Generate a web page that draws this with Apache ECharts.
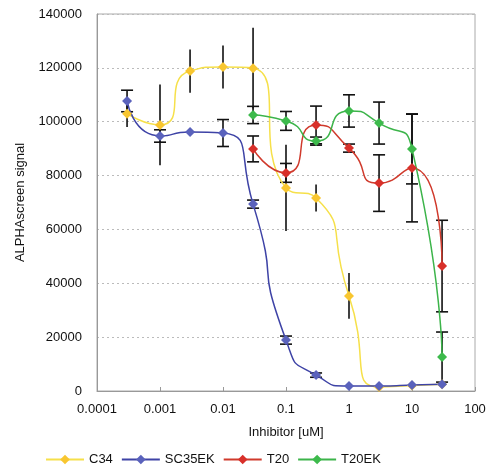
<!DOCTYPE html>
<html>
  <head>
    <meta charset="utf-8" />
    <title>ALPHAscreen inhibition</title>
    <script src="https://cdn.jsdelivr.net/npm/echarts@6/dist/echarts.min.js"></script>
    <style>
      html, body { margin: 0; padding: 0; background: #fff; }
    </style>
  </head>
  <body>
    <div id="main" style="width: 495px; height: 467px"></div>
    <script type="text/javascript">
      // concentrations in uM
      var concentrations = [0.0003, 0.001, 0.003, 0.01, 0.03, 0.1, 0.3, 1, 3, 10, 30];

      var c34 = [103000, 98800, 118800, 120300, 119900, 75400, 71700, 35300, 1500, 2000, 2500];
      var c34Err = [5000, 15000, 8000, 8000, 15000, 16000, 5000, 8500, 0, 0, 0];

      var sc35ek = [107700, 94700, 96200, 95800, 69400, 18900, 5900, 1900, 1900, 2200, 2500];
      var sc35ekErr = [4000, 2300, 0, 5000, 1500, 1500, 800, 0, 0, 0, 0];

      var t20 = [null, null, null, null, 89900, 81000, 98800, 90200, 77200, 82800, 46400];
      var t20Err = [null, null, null, null, 4800, 3500, 7000, 1500, 10500, 20000, 17000];

      var t20ek = [null, null, null, null, 102500, 100300, 92800, 104000, 99500, 89900, 12600];
      var t20ekErr = [null, null, null, null, 3200, 3500, 1500, 6000, 7800, 13000, 9300];

      var xTicks = ['0.0001', '0.001', '0.01', '0.1', '1', '10', '100'];

      var font = 'Arial, "Liberation Sans", sans-serif';

      function points(values) {
        var out = [];
        values.forEach(function (v, i) {
          if (v !== null) out.push([concentrations[i], v]);
        });
        return out;
      }

      function errPoints(values, errs) {
        var out = [];
        values.forEach(function (v, i) {
          if (v !== null && errs[i]) out.push([concentrations[i], v - errs[i], v + errs[i]]);
        });
        return out;
      }

      function errorSeries(values, errs, capWidth) {
        return {
          type: 'custom',
          silent: true,
          z: 1,
          encode: { x: 0, y: [1, 2] },
          renderItem: function (params, api) {
            var x = api.value(0);
            var lo = api.coord([x, api.value(1)]);
            var hi = api.coord([x, api.value(2)]);
            var style = { stroke: '#111', lineWidth: 1.6 };
            var children = [
              { type: 'line', shape: { x1: lo[0], y1: lo[1], x2: hi[0], y2: hi[1] }, style: style }
            ];
            if (capWidth) {
              var h = capWidth / 2;
              children.push({ type: 'line', shape: { x1: lo[0] - h, y1: lo[1], x2: lo[0] + h, y2: lo[1] }, style: style });
              children.push({ type: 'line', shape: { x1: hi[0] - h, y1: hi[1], x2: hi[0] + h, y2: hi[1] }, style: style });
            }
            return { type: 'group', children: children };
          },
          data: errPoints(values, errs)
        };
      }

      function lineSeries(name, values, lineColor, markColor) {
        return {
          name: name,
          type: 'line',
          z: 2,
          smooth: 0.7,
          symbol: 'diamond',
          symbolSize: 10,
          showAllSymbol: true,
          lineStyle: { color: lineColor, width: 1.5 },
          itemStyle: { color: markColor },
          data: points(values)
        };
      }

      var chartDom = document.getElementById('main');
      var myChart = echarts.init(chartDom);
      var option;

      option = {
        animation: false,
        backgroundColor: '#fff',
        textStyle: { fontFamily: font },
        legend: {
          left: 40,
          top: 448,
          itemWidth: 38,
          itemHeight: 12,
          itemGap: 8,
          textStyle: { fontFamily: font, fontSize: 13, color: '#111' },
          data: ['C34', 'SC35EK', 'T20', 'T20EK']
        },
        grid: {
          left: 97,
          right: 20,
          top: 14,
          bottom: 76,
          show: true,
          borderColor: '#aaa',
          borderWidth: 1
        },
        xAxis: {
          type: 'log',
          logBase: 10,
          min: 0.0001,
          max: 100,
          name: 'Inhibitor [uM]',
          nameLocation: 'middle',
          nameGap: 35,
          nameTextStyle: { fontFamily: font, fontSize: 13, color: '#111' },
          axisLine: { lineStyle: { color: '#999' } },
          axisTick: { show: true, inside: true, length: 4, lineStyle: { color: '#999' } },
          splitLine: { show: false },
          minorTick: { show: false },
          axisLabel: {
            margin: 12,
            fontFamily: font,
            fontSize: 13,
            color: '#111',
            formatter: function (v) {
              var k = Math.round(Math.log10(v)) + 4;
              return xTicks[k] !== undefined ? xTicks[k] : '';
            }
          }
        },
        yAxis: {
          type: 'value',
          min: 0,
          max: 140000,
          interval: 20000,
          name: 'ALPHAscreen signal',
          nameLocation: 'middle',
          nameGap: 70,
          nameTextStyle: { fontFamily: font, fontSize: 13, color: '#111' },
          axisLine: { show: true, lineStyle: { color: '#999' } },
          axisTick: { show: false },
          splitLine: { show: true, lineStyle: { color: '#bbb', type: [2, 3], width: 1 } },
          axisLabel: {
            margin: 15,
            fontFamily: font,
            fontSize: 13,
            color: '#111',
            formatter: function (v) { return String(v); }
          }
        },
        series: [
          errorSeries(c34, c34Err, 0),
          errorSeries(sc35ek, sc35ekErr, 12),
          errorSeries(t20, t20Err, 12),
          errorSeries(t20ek, t20ekErr, 12),
          lineSeries('C34', c34, '#F6E04A', '#F8C630'),
          lineSeries('SC35EK', sc35ek, '#3E43A6', '#5A62BC'),
          lineSeries('T20', t20, '#D03A2C', '#D8302A'),
          lineSeries('T20EK', t20ek, '#3CB44A', '#3DBA4C')
        ]
      };

      option && myChart.setOption(option);
    </script>
  </body>
</html>
